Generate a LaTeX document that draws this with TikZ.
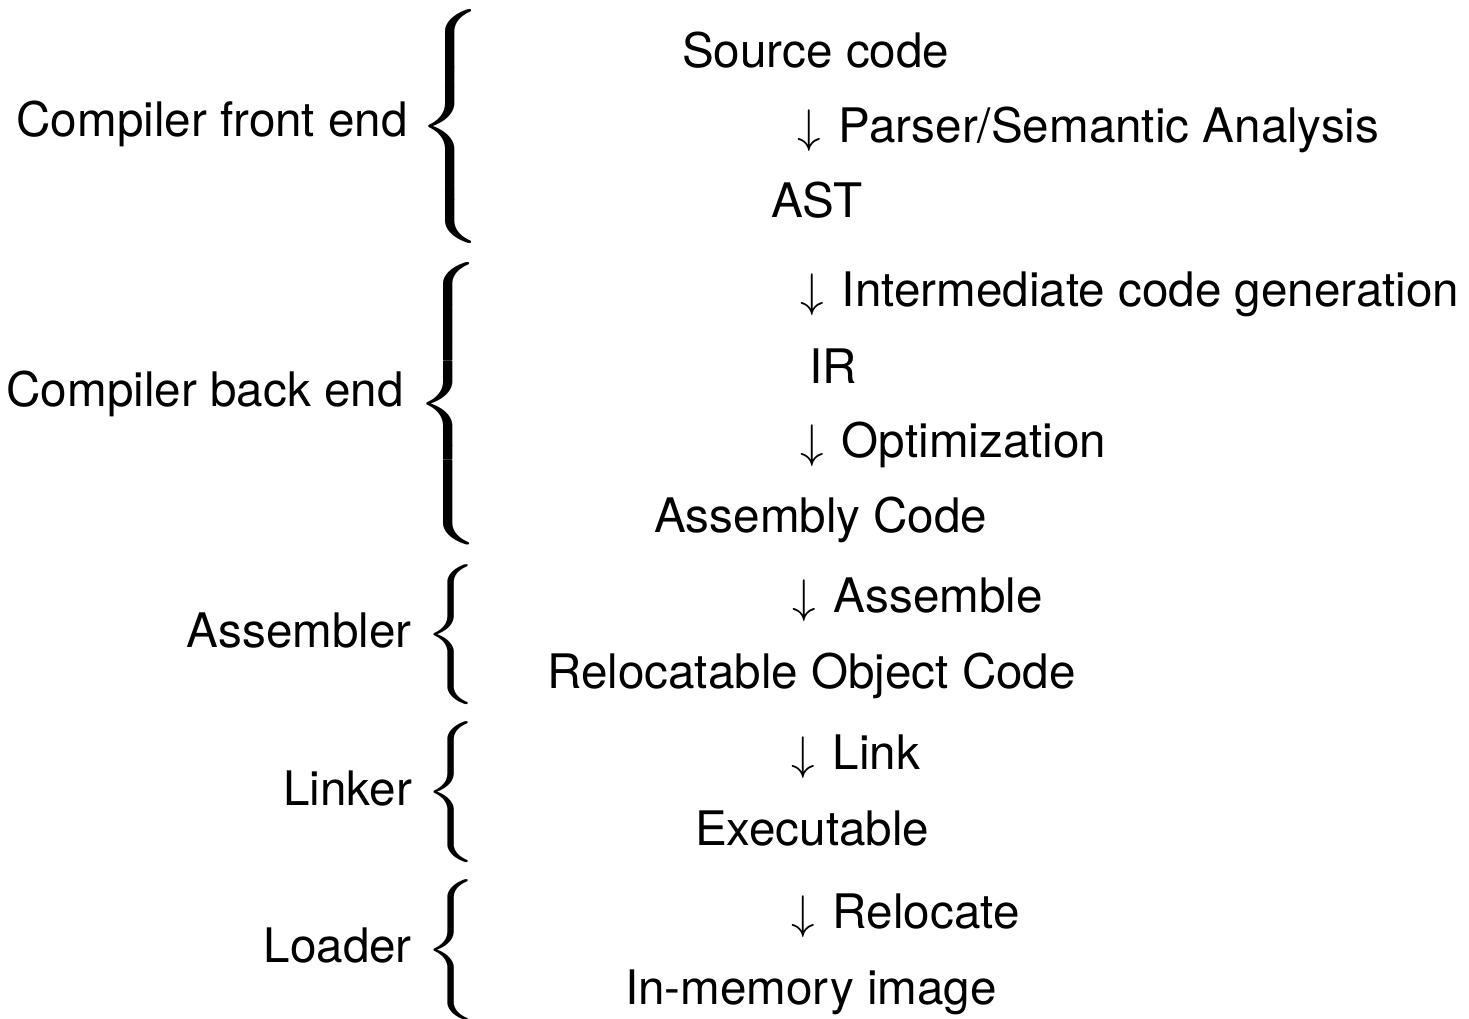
\documentclass[tikz,border=0pt]{standalone}
\usepackage{fontspec}
\setmainfont{TeX Gyre Heros}
\usepackage{graphicx}
% #1 horizontal factor, #2 total height, #3 requested size at 10pt
\newcommand\mybrace[3]{{\normalsize\resizebox*{#1\width}{#2pt}{$\nulldelimiterspace=0pt\left\{\vcenter{\hbox{\rule{0pt}{#3pt}}}\right.$}}}
\newcommand\dnarr{{\normalsize\scalebox{4.7}{$\downarrow$}}\hspace*{5pt}}
\tikzset{
  lbl/.style={inner sep=0pt, font=\fontsize{47.6pt}{56pt}\selectfont},
  stage/.style={lbl, anchor=base east},
  item/.style={lbl, anchor=base west},
  brc/.style={inner sep=0pt, anchor=west}
}
\begin{document}
\begin{tikzpicture}[x=1pt,y=-1pt]
\useasboundingbox (0,0) rectangle (1469,1018);
% stage labels
\node[stage] (fe) at (408,136) {Compiler front end};
\node[stage] (be) at (404,406) {Compiler back end};
\node[stage] (as) at (412,647) {Assembler};
\node[stage] (ln) at (412,805) {Linker};
\node[stage] (ld) at (412,962) {Loader};
% braces
\node[brc] (b1) at (415,126.5) {\mybrace{7.8}{237}{48.5}};
\node[brc] (b2) at (413,403.5) {\mybrace{7.8}{283}{59.6}};
\node[brc] (b3) at (424,635) {\mybrace{6.6}{140}{30}};
\node[brc] (b4) at (424,792.5) {\mybrace{6.6}{141}{30}};
\node[brc] (b5) at (424,950.5) {\mybrace{6.6}{141}{30}};
% pipeline
\node[item] (src) at (682,67) {Source code};
\node[item] (a1) at (797,142) {\dnarr{} Parser/Semantic Analysis};
\node[item] (ast) at (771,217) {AST};
\node[item] (a2) at (800,306) {\dnarr{} Intermediate code generation};
\node[item] (ir) at (809,383) {IR};
\node[item] (a3) at (800,457) {\dnarr{} Optimization};
\node[item] (asm) at (654,532) {Assembly Code};
\node[item] (a4) at (792,612) {\dnarr{} Assemble};
\node[item] (roc) at (547,688) {Relocatable Object Code};
\node[item] (a5) at (791,769) {\dnarr{} Link};
\node[item] (exe) at (695,845) {Executable};
\node[item] (a6) at (791,928) {\dnarr{} Relocate};
\node[item] (img) at (625,1004) {In-memory image};
\end{tikzpicture}
\end{document}
